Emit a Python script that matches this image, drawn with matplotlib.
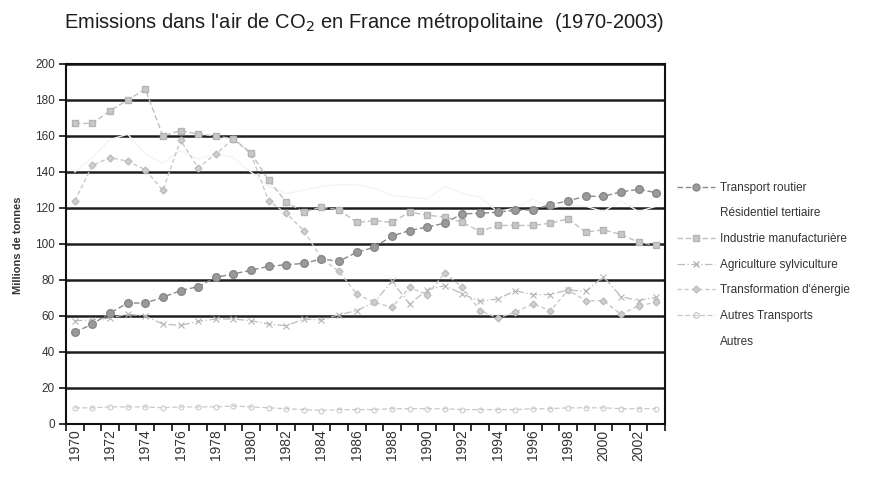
import matplotlib
matplotlib.use("Agg")
import matplotlib.pyplot as plt
from matplotlib.lines import Line2D
import numpy as np

plt.rcParams['font.family'] = ['Liberation Sans', 'DejaVu Sans']

years = list(range(1970, 2004))

transport_routier = [51, 55.5, 61.7, 67.2, 67.2, 70.4, 74.1, 76.3, 81.5, 83.4,
                     85.4, 87.6, 88.5, 89.2, 91.7, 90.4, 95.4, 98.2, 104.4, 107.5,
                     109.4, 111.6, 116.8, 117, 117.7, 118.7, 119, 121.8, 124, 126.5,
                     126.5, 128.9, 130.4, 128.5]

residentiel_tertiaire = [140, 148, 158, 161, 150, 145, 152, 147, 150, 148,
                         140, 132, 128, 130, 132, 133, 133, 131, 127, 126,
                         125, 132, 128, 126, 118, 120, 125, 120, 122, 121,
                         118, 124, 118, 121]

industrie = [167, 167, 174, 180, 186, 160, 163, 161, 160, 158.5,
             150.6, 135.4, 123.3, 117.7, 120.5, 119, 112, 113, 112, 117.7,
             116, 115, 112, 107, 110.3, 110.3, 110.3, 111.6, 114, 106.6,
             107.9, 105.3, 101, 99.2]

agriculture = [57.4, 57.8, 58.9, 61, 60, 55.5, 54.8, 57, 58.3, 58.3,
               57.4, 55.5, 54.6, 58.3, 57.8, 60.7, 63, 67.6, 79.3, 66.7,
               74.5, 76.9, 72.2, 68.1, 69.5, 74, 71.9, 71.9, 74.5, 73.7,
               81.9, 70.8, 68.5, 70.4]

transformation = [124, 143.7, 148, 146, 141.3, 129.8, 157.7, 142.4, 150, 158.4,
                  150, 124, 117, 107.5, 92, 84.8, 72.2, 67.6, 64.8, 75.9,
                  71.9, 83.9, 75.9, 63, 58.9, 62, 66.7, 63, 74.5, 68.5,
                  68.5, 61, 65.7, 67.6]

autres_transports = [9, 9, 9.5, 9.5, 9.5, 9, 9.5, 9.5, 9.5, 10,
                     9.5, 9, 8.5, 8, 7.5, 8, 8, 8, 8.5, 8.5,
                     8.5, 8.5, 8, 8, 8, 8, 8.5, 8.5, 9, 9,
                     9, 8.5, 8.5, 8.5]

yticks = list(range(0, 201, 20))
xlabels = [str(y) for y in range(1970, 2004, 2)]

fig = plt.figure(figsize=(8.71, 4.79), dpi=100)
ax = fig.add_axes([66/871, 1-424/479, (665-66)/871, (424-64)/479])

x = np.arange(len(years))

for yv in yticks[1:]:
    ax.axhline(yv, color='#1e1e1e', lw=1.8, zorder=1)

ax.plot(x, residentiel_tertiaire, color='#f4f4f4', lw=1.0, zorder=2)
ax.plot(x, autres_transports, color='#c8c8c8', lw=0.9, ls=(0, (4, 2)),
        marker='o', ms=3.5, mfc='none', mec='#cccccc', mew=0.8, zorder=3)
ax.plot(x, agriculture, color='#bcbcbc', lw=0.9, ls=(0, (6, 2, 1, 2)),
        marker='x', ms=5, mec='#b4b4b4', mew=0.8, zorder=3)
ax.plot(x, transformation, color='#c8c8c8', lw=1.0, ls=(0, (3, 2)),
        marker='D', ms=3.5, mfc='#cfcfcf', mec='#bdbdbd', zorder=3)
ax.plot(x, industrie, color='#c0c0c0', lw=1.0, ls=(0, (4, 2)),
        marker='s', ms=4, mfc='#c8c8c8', mec='#b4b4b4', zorder=4)
ax.plot(x, transport_routier, color='#8a8a8a', lw=1.0, ls=(0, (4, 2)),
        marker='o', ms=5.5, mfc='#9a9a9a', mec='#888888', zorder=5)

ax.set_xlim(-0.5, len(years) - 0.5)
ax.set_ylim(0, 200)
ax.set_yticks(yticks)
ax.set_yticklabels([str(v) for v in yticks], fontsize=8.5, color='#333333')
ax.set_xticks(np.arange(0, len(years), 2))
ax.set_xticklabels(xlabels, rotation=90, fontsize=10, color='#333333')
ax.set_xticks(np.arange(-0.5, len(years), 1), minor=True)
ax.tick_params(axis='x', which='major', length=0, pad=4)
ax.tick_params(axis='x', which='minor', length=5, width=1.2, direction='out', color='#111111')
ax.tick_params(axis='y', length=5, width=1.2, direction='out', color='#111111', pad=3)
for s in ax.spines.values():
    s.set_color('#111111')
    s.set_linewidth(1.5)

fig.text(18/871, 1-245/479, 'Millions de tonnes', rotation=90, ha='center', va='center',
         fontsize=8, fontweight='bold', color='#333333')

fig.text(64/871, 1-23/479, "Emissions dans l'air de CO$_2$ en France métropolitaine  (1970-2003)",
         ha='left', va='center', fontsize=14.5, color='#1e1e1e')

handles = [
    Line2D([], [], color='#8a8a8a', lw=1.0, ls=(0, (4, 2)), marker='o', ms=5, mfc='#9a9a9a', mec='#888888'),
    Line2D([], [], color='#ffffff', lw=1.0),
    Line2D([], [], color='#c0c0c0', lw=1.0, ls=(0, (4, 2)), marker='s', ms=4, mfc='#c8c8c8', mec='#b4b4b4'),
    Line2D([], [], color='#bcbcbc', lw=0.9, ls=(0, (6, 2, 1, 2)), marker='x', ms=4.5, mec='#b4b4b4'),
    Line2D([], [], color='#c8c8c8', lw=1.0, ls=(0, (3, 2)), marker='D', ms=3.5, mfc='#cfcfcf', mec='#bdbdbd'),
    Line2D([], [], color='#c8c8c8', lw=0.9, ls=(0, (4, 2)), marker='o', ms=4, mfc='none', mec='#cccccc'),
    Line2D([], [], color='#ffffff', lw=1.0),
]
labels = ['Transport routier', 'Résidentiel tertiaire', 'Industrie manufacturière',
          'Agriculture sylviculture', "Transformation d'énergie", 'Autres Transports', 'Autres']
fig.legend(handles, labels, loc='upper left', bbox_to_anchor=(672/871, 1-177/479),
           frameon=False, fontsize=8.5, handlelength=3.2, handletextpad=0.5,
           labelspacing=1.16, borderaxespad=0, labelcolor='#333333')

fig.savefig('out.png', dpi=100)
